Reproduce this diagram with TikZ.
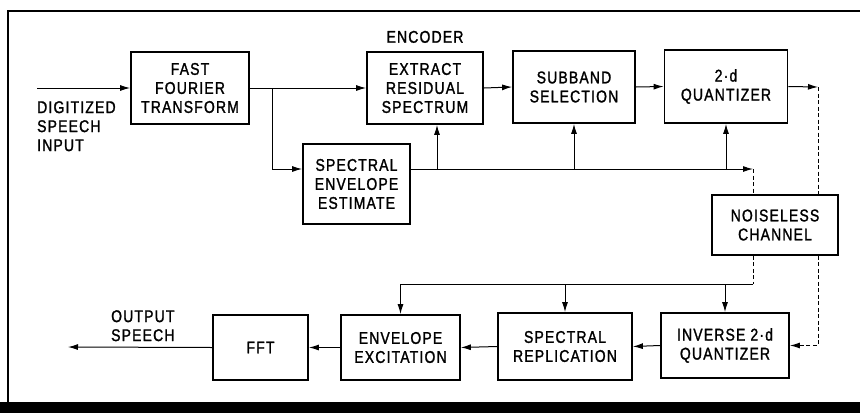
\documentclass[tikz,border=0pt]{standalone}
\usepackage{fontspec}
\usepackage{tikz}
\usetikzlibrary{calc,positioning,arrows.meta}
\newfontfamily\blockfont[FakeStretch=0.82,LetterSpace=7,FakeBold=1.4]{Liberation Sans}

\begin{document}
\begin{tikzpicture}[x=1pt,y=-1pt,
    block/.style={draw, line width=1.8pt, align=center, inner sep=0pt,
      font=\blockfont\fontsize{17}{19}\selectfont},
    conn/.style={line width=1pt, -{Latex[length=10pt,width=6pt]}},
    dash line/.style={line width=1pt, dash pattern=on 4pt off 2.5pt},
    lbl/.style={inner sep=0pt, align=left, font=\blockfont\fontsize{17}{19}\selectfont}]
    \useasboundingbox (0,0) rectangle (860,413);
    % frame
    \draw[line width=1.2pt] (860,11) -- (8,11) -- (8,403);
    \fill (0,402) rectangle (860,413);

    % encoder blocks
    \node[block, minimum width=118pt, minimum height=72pt] (fft) at (190,88) {FAST\\FOURIER\\TRANSFORM};
    \node[block, minimum width=116pt, minimum height=72pt] (extract) at (425,88) {EXTRACT\\RESIDUAL\\SPECTRUM};
    \node[block, minimum width=122pt, minimum height=72pt] (subband) at (574,87) {SUBBAND\\SELECTION};
    \node[block, minimum width=123pt, minimum height=73pt] (quant) at (726,86.5) {2·d\\QUANTIZER};
    \node[block, minimum width=107pt, minimum height=80pt] (envest) at (356.5,184) {SPECTRAL\\ENVELOPE\\ESTIMATE};
    \node[block, minimum width=126pt, minimum height=60pt] (channel) at (775,225) {NOISELESS\\CHANNEL};
    \node[lbl, above=8pt of extract] (enc) {ENCODER};

    % decoder blocks
    \node[block, minimum width=128pt, minimum height=65pt] (invq) at (725,345.5) {INVERSE 2·d\\QUANTIZER};
    \node[block, minimum width=134pt, minimum height=67pt] (replic) at (565,346.5) {SPECTRAL\\REPLICATION};
    \node[block, minimum width=119pt, minimum height=65pt] (envexc) at (400.5,347.5) {ENVELOPE\\EXCITATION};
    \node[block, minimum width=95pt, minimum height=65pt] (ifft) at (260.5,347.5) {FFT};

    % labels
    \node[lbl, anchor=north west] (inlbl) at (37,101) {DIGITIZED\\SPEECH\\INPUT};
    \node[lbl, anchor=north west] (outlbl) at (111,310) {OUTPUT\\SPEECH};

    % points
    \coordinate (in) at (37,88);
    \coordinate (br) at (272,88);
    \coordinate (bus) at (0,169);
    \coordinate (busend) at (753,169);
    \coordinate (qout) at (818,87);
    \coordinate (dbus) at (753,284);
    \coordinate (exin) at ([xshift=12pt]extract.south);
    \coordinate (out) at (68,347);

    % encoder path
    \draw[conn] (in) -- (fft.west);
    \draw[conn] (fft.east) -- (extract.west);
    \draw[conn] (br) |- (envest.west |- bus);
    \draw[conn] (extract.east) -- (subband.west);
    \draw[conn] (subband.east) -- (quant.west);
    \draw[conn] (quant.east) -- (qout);
    \draw[conn] (envest.east |- bus) -- (busend);
    \draw[conn] (exin |- bus) -- (exin);
    \draw[conn] (subband.south |- bus) -- (subband.south);
    \draw[conn] (quant.south |- bus) -- (quant.south);
    \draw[dash line] (busend) -- (busend |- channel.north);
    \draw[dash line] (qout) -- (qout |- channel.north);

    % decoder path
    \draw[dash line] (busend |- channel.south) -- (dbus);
    \draw[conn] (dbus) -| (envexc.north);
    \draw[conn] (replic.north |- dbus) -- (replic.north);
    \draw[conn] (invq.north |- dbus) -- (invq.north);
    \draw[dash line, -{Latex[length=10pt,width=6pt]}] (qout |- channel.south) |- (invq.east);
    \draw[conn] (invq.west) -- (replic.east);
    \draw[conn] (replic.west) -- (envexc.east);
    \draw[conn] (envexc.west) -- (ifft.east);
    \draw[conn] (ifft.west) -- (out);
  \end{tikzpicture}
\end{document}
